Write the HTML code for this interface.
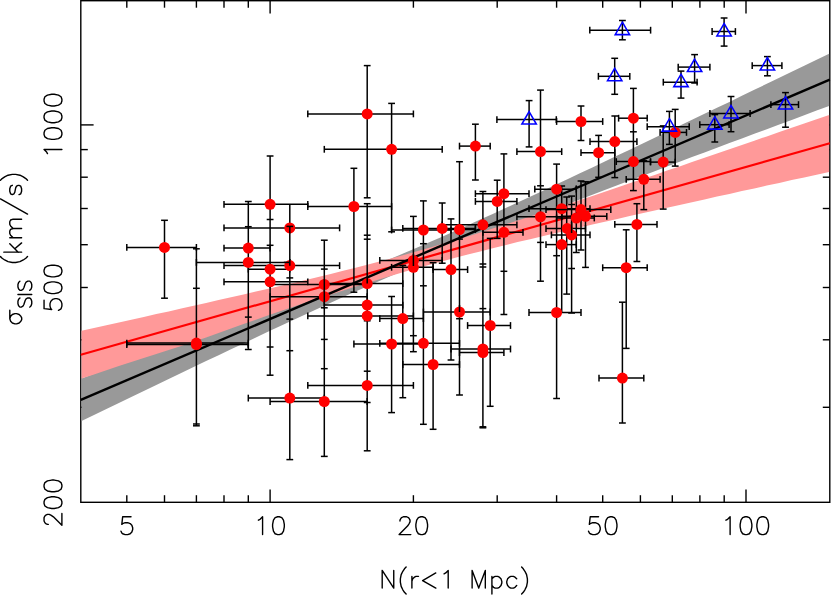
<!DOCTYPE html>
<html><head><meta charset="utf-8"><title>chart</title>
<style>html,body{margin:0;padding:0;background:#fff;font-family:"Liberation Sans",sans-serif;}svg{display:block;}</style></head>
<body><svg width="831" height="595" viewBox="0 0 831 595">
<rect width="831" height="595" fill="#fff"/>
<g stroke="#000" stroke-width="1.4" fill="none">
<rect x="80.8" y="0.7" width="749.0" height="501.6"/>
<line x1="126.8" y1="502.2" x2="126.8" y2="495.2"/>
<line x1="126.8" y1="0.7" x2="126.8" y2="7.7"/>
<line x1="164.5" y1="502.2" x2="164.5" y2="495.2"/>
<line x1="164.5" y1="0.7" x2="164.5" y2="7.7"/>
<line x1="196.4" y1="502.2" x2="196.4" y2="495.2"/>
<line x1="196.4" y1="0.7" x2="196.4" y2="7.7"/>
<line x1="224.0" y1="502.2" x2="224.0" y2="495.2"/>
<line x1="224.0" y1="0.7" x2="224.0" y2="7.7"/>
<line x1="248.3" y1="502.2" x2="248.3" y2="495.2"/>
<line x1="248.3" y1="0.7" x2="248.3" y2="7.7"/>
<line x1="270.1" y1="502.2" x2="270.1" y2="489.4"/>
<line x1="270.1" y1="0.7" x2="270.1" y2="13.5"/>
<line x1="413.4" y1="502.2" x2="413.4" y2="495.2"/>
<line x1="413.4" y1="0.7" x2="413.4" y2="7.7"/>
<line x1="497.2" y1="502.2" x2="497.2" y2="495.2"/>
<line x1="497.2" y1="0.7" x2="497.2" y2="7.7"/>
<line x1="556.6" y1="502.2" x2="556.6" y2="495.2"/>
<line x1="556.6" y1="0.7" x2="556.6" y2="7.7"/>
<line x1="602.7" y1="502.2" x2="602.7" y2="495.2"/>
<line x1="602.7" y1="0.7" x2="602.7" y2="7.7"/>
<line x1="640.4" y1="502.2" x2="640.4" y2="495.2"/>
<line x1="640.4" y1="0.7" x2="640.4" y2="7.7"/>
<line x1="672.3" y1="502.2" x2="672.3" y2="495.2"/>
<line x1="672.3" y1="0.7" x2="672.3" y2="7.7"/>
<line x1="699.9" y1="502.2" x2="699.9" y2="495.2"/>
<line x1="699.9" y1="0.7" x2="699.9" y2="7.7"/>
<line x1="724.2" y1="502.2" x2="724.2" y2="495.2"/>
<line x1="724.2" y1="0.7" x2="724.2" y2="7.7"/>
<line x1="746.0" y1="502.2" x2="746.0" y2="489.4"/>
<line x1="746.0" y1="0.7" x2="746.0" y2="13.5"/>
<line x1="80.8" y1="407.3" x2="87.8" y2="407.3"/>
<line x1="829.8" y1="407.3" x2="822.8" y2="407.3"/>
<line x1="80.8" y1="339.8" x2="87.8" y2="339.8"/>
<line x1="829.8" y1="339.8" x2="822.8" y2="339.8"/>
<line x1="80.8" y1="287.5" x2="87.8" y2="287.5"/>
<line x1="829.8" y1="287.5" x2="822.8" y2="287.5"/>
<line x1="80.8" y1="244.7" x2="87.8" y2="244.7"/>
<line x1="829.8" y1="244.7" x2="822.8" y2="244.7"/>
<line x1="80.8" y1="208.5" x2="87.8" y2="208.5"/>
<line x1="829.8" y1="208.5" x2="822.8" y2="208.5"/>
<line x1="80.8" y1="177.2" x2="87.8" y2="177.2"/>
<line x1="829.8" y1="177.2" x2="822.8" y2="177.2"/>
<line x1="80.8" y1="149.6" x2="87.8" y2="149.6"/>
<line x1="829.8" y1="149.6" x2="822.8" y2="149.6"/>
<line x1="80.8" y1="124.9" x2="93.6" y2="124.9"/>
<line x1="829.8" y1="124.9" x2="817.0" y2="124.9"/>
</g>
<path d="M81.5 378.4 L94.0 373.7 L106.4 369.1 L118.9 364.4 L131.3 359.7 L143.8 355.0 L156.3 350.4 L168.7 345.7 L181.2 341.0 L193.6 336.2 L206.1 331.5 L218.6 326.8 L231.0 322.0 L243.5 317.3 L255.9 312.5 L268.4 307.7 L280.9 302.9 L293.3 298.0 L305.8 293.2 L318.2 288.2 L330.7 283.3 L343.2 278.3 L355.6 273.3 L368.1 268.2 L380.5 263.0 L393.0 257.8 L405.5 252.6 L417.9 247.2 L430.4 241.8 L442.8 236.4 L455.3 230.8 L467.8 225.3 L480.2 219.6 L492.7 214.0 L505.1 208.3 L517.6 202.5 L530.1 196.7 L542.5 190.9 L555.0 185.1 L567.4 179.2 L579.9 173.3 L592.4 167.4 L604.8 161.5 L617.3 155.6 L629.7 149.7 L642.2 143.7 L654.7 137.8 L667.1 131.8 L679.6 125.8 L692.0 119.8 L704.5 113.8 L717.0 107.8 L729.4 101.9 L741.9 95.8 L754.3 89.8 L766.8 83.8 L779.3 77.8 L791.7 71.8 L804.2 65.8 L816.6 59.8 L829.1 53.7 L829.1 106.0 L816.6 110.6 L804.2 115.3 L791.7 119.9 L779.3 124.5 L766.8 129.2 L754.3 133.8 L741.9 138.5 L729.4 143.1 L717.0 147.8 L704.5 152.5 L692.0 157.1 L679.6 161.8 L667.1 166.5 L654.7 171.2 L642.2 175.9 L629.7 180.6 L617.3 185.3 L604.8 190.1 L592.4 194.8 L579.9 199.6 L567.4 204.3 L555.0 209.1 L542.5 214.0 L530.1 218.8 L517.6 223.7 L505.1 228.6 L492.7 233.5 L480.2 238.5 L467.8 243.5 L455.3 248.6 L442.8 253.8 L430.4 259.0 L417.9 264.2 L405.5 269.6 L393.0 275.0 L380.5 280.4 L368.1 285.9 L355.6 291.5 L343.2 297.1 L330.7 302.8 L318.2 308.5 L305.8 314.2 L293.3 320.0 L280.9 325.8 L268.4 331.6 L255.9 337.5 L243.5 343.4 L231.0 349.3 L218.6 355.2 L206.1 361.1 L193.6 367.1 L181.2 373.0 L168.7 379.0 L156.3 384.9 L143.8 390.9 L131.3 396.9 L118.9 402.9 L106.4 408.9 L94.0 414.9 L81.5 420.9Z" fill="#999"/>
<path d="M81.5 330.7 L94.0 328.0 L106.4 325.2 L118.9 322.4 L131.3 319.7 L143.8 316.9 L156.3 314.1 L168.7 311.4 L181.2 308.6 L193.6 305.8 L206.1 303.0 L218.6 300.1 L231.0 297.3 L243.5 294.5 L255.9 291.6 L268.4 288.7 L280.9 285.8 L293.3 282.9 L305.8 279.9 L318.2 276.9 L330.7 273.9 L343.2 270.8 L355.6 267.7 L368.1 264.5 L380.5 261.2 L393.0 257.9 L405.5 254.5 L417.9 251.0 L430.4 247.5 L442.8 243.8 L455.3 240.1 L467.8 236.4 L480.2 232.5 L492.7 228.6 L505.1 224.6 L517.6 220.6 L530.1 216.6 L542.5 212.5 L555.0 208.4 L567.4 204.3 L579.9 200.1 L592.4 195.9 L604.8 191.8 L617.3 187.5 L629.7 183.3 L642.2 179.1 L654.7 174.9 L667.1 170.6 L679.6 166.4 L692.0 162.1 L704.5 157.8 L717.0 153.6 L729.4 149.3 L741.9 145.0 L754.3 140.7 L766.8 136.4 L779.3 132.1 L791.7 127.8 L804.2 123.5 L816.6 119.2 L829.1 114.9 L829.1 171.9 L816.6 174.7 L804.2 177.4 L791.7 180.1 L779.3 182.9 L766.8 185.6 L754.3 188.4 L741.9 191.1 L729.4 193.9 L717.0 196.6 L704.5 199.4 L692.0 202.2 L679.6 204.9 L667.1 207.7 L654.7 210.5 L642.2 213.3 L629.7 216.1 L617.3 218.9 L604.8 221.8 L592.4 224.6 L579.9 227.5 L567.4 230.4 L555.0 233.3 L542.5 236.2 L530.1 239.2 L517.6 242.1 L505.1 245.2 L492.7 248.3 L480.2 251.4 L467.8 254.6 L455.3 257.8 L442.8 261.2 L430.4 264.6 L417.9 268.0 L405.5 271.6 L393.0 275.2 L380.5 279.0 L368.1 282.7 L355.6 286.6 L343.2 290.5 L330.7 294.5 L318.2 298.5 L305.8 302.6 L293.3 306.8 L280.9 311.0 L268.4 315.3 L255.9 319.7 L243.5 324.1 L231.0 328.5 L218.6 333.0 L206.1 337.4 L193.6 341.7 L181.2 345.9 L168.7 350.0 L156.3 354.1 L143.8 358.1 L131.3 362.1 L118.9 366.1 L106.4 370.2 L94.0 374.4 L81.5 378.5Z" fill="#f99"/>
<line x1="80.8" y1="354.7" x2="829.8" y2="143.2" stroke="#f00" stroke-width="2.2"/>
<line x1="80.8" y1="399.9" x2="829.8" y2="79.6" stroke="#000" stroke-width="2.4"/>
<g stroke="#000" stroke-width="1.50" fill="none">
<line x1="164.5" y1="220.3" x2="164.5" y2="298.2"/>
<line x1="161.1" y1="220.3" x2="167.9" y2="220.3"/>
<line x1="161.1" y1="298.2" x2="167.9" y2="298.2"/>
<line x1="196.4" y1="248.8" x2="196.4" y2="425.8"/>
<line x1="193.0" y1="248.8" x2="199.8" y2="248.8"/>
<line x1="193.0" y1="288.3" x2="199.8" y2="288.3"/>
<line x1="193.0" y1="424.0" x2="199.8" y2="424.0"/>
<line x1="193.0" y1="425.8" x2="199.8" y2="425.8"/>
<line x1="248.3" y1="201.5" x2="248.3" y2="349.5"/>
<line x1="244.9" y1="201.5" x2="251.7" y2="201.5"/>
<line x1="244.9" y1="226.7" x2="251.7" y2="226.7"/>
<line x1="244.9" y1="317.1" x2="251.7" y2="317.1"/>
<line x1="244.9" y1="349.5" x2="251.7" y2="349.5"/>
<line x1="270.1" y1="156.0" x2="270.1" y2="375.2"/>
<line x1="266.7" y1="156.0" x2="273.5" y2="156.0"/>
<line x1="266.7" y1="219.5" x2="273.5" y2="219.5"/>
<line x1="266.7" y1="245.3" x2="273.5" y2="245.3"/>
<line x1="266.7" y1="347.0" x2="273.5" y2="347.0"/>
<line x1="266.7" y1="375.2" x2="273.5" y2="375.2"/>
<line x1="289.8" y1="204.3" x2="289.8" y2="459.6"/>
<line x1="286.4" y1="225.9" x2="293.2" y2="225.9"/>
<line x1="286.4" y1="277.9" x2="293.2" y2="277.9"/>
<line x1="286.4" y1="319.1" x2="293.2" y2="319.1"/>
<line x1="286.4" y1="350.7" x2="293.2" y2="350.7"/>
<line x1="286.4" y1="459.6" x2="293.2" y2="459.6"/>
<line x1="324.3" y1="240.2" x2="324.3" y2="456.4"/>
<line x1="320.9" y1="240.2" x2="327.7" y2="240.2"/>
<line x1="320.9" y1="269.1" x2="327.7" y2="269.1"/>
<line x1="320.9" y1="307.8" x2="327.7" y2="307.8"/>
<line x1="320.9" y1="339.4" x2="327.7" y2="339.4"/>
<line x1="320.9" y1="368.7" x2="327.7" y2="368.7"/>
<line x1="320.9" y1="456.4" x2="327.7" y2="456.4"/>
<line x1="353.9" y1="168.3" x2="353.9" y2="292.2"/>
<line x1="350.5" y1="168.3" x2="357.3" y2="168.3"/>
<line x1="350.5" y1="292.2" x2="357.3" y2="292.2"/>
<line x1="367.2" y1="65.6" x2="367.2" y2="197.8"/>
<line x1="367.2" y1="203.7" x2="367.2" y2="450.8"/>
<line x1="363.8" y1="65.6" x2="370.6" y2="65.6"/>
<line x1="363.8" y1="197.8" x2="370.6" y2="197.8"/>
<line x1="363.8" y1="203.7" x2="370.6" y2="203.7"/>
<line x1="363.8" y1="235.2" x2="370.6" y2="235.2"/>
<line x1="363.8" y1="239.2" x2="370.6" y2="239.2"/>
<line x1="363.8" y1="320.8" x2="370.6" y2="320.8"/>
<line x1="363.8" y1="371.2" x2="370.6" y2="371.2"/>
<line x1="363.8" y1="402.5" x2="370.6" y2="402.5"/>
<line x1="363.8" y1="450.8" x2="370.6" y2="450.8"/>
<line x1="391.6" y1="103.4" x2="391.6" y2="231.8"/>
<line x1="391.6" y1="296.5" x2="391.6" y2="412.6"/>
<line x1="388.2" y1="103.4" x2="395.0" y2="103.4"/>
<line x1="388.2" y1="231.8" x2="395.0" y2="231.8"/>
<line x1="388.2" y1="296.5" x2="395.0" y2="296.5"/>
<line x1="388.2" y1="412.6" x2="395.0" y2="412.6"/>
<line x1="402.8" y1="265.4" x2="402.8" y2="397.7"/>
<line x1="399.4" y1="265.4" x2="406.2" y2="265.4"/>
<line x1="399.4" y1="397.7" x2="406.2" y2="397.7"/>
<line x1="413.4" y1="216.4" x2="413.4" y2="351.7"/>
<line x1="410.0" y1="216.4" x2="416.8" y2="216.4"/>
<line x1="410.0" y1="335.7" x2="416.8" y2="335.7"/>
<line x1="410.0" y1="351.7" x2="416.8" y2="351.7"/>
<line x1="423.4" y1="200.9" x2="423.4" y2="424.3"/>
<line x1="420.0" y1="200.9" x2="426.8" y2="200.9"/>
<line x1="420.0" y1="243.7" x2="426.8" y2="243.7"/>
<line x1="420.0" y1="285.8" x2="426.8" y2="285.8"/>
<line x1="420.0" y1="424.3" x2="426.8" y2="424.3"/>
<line x1="433.1" y1="262.7" x2="433.1" y2="429.3"/>
<line x1="429.7" y1="262.7" x2="436.5" y2="262.7"/>
<line x1="429.7" y1="429.3" x2="436.5" y2="429.3"/>
<line x1="442.2" y1="203.0" x2="442.2" y2="263.2"/>
<line x1="438.8" y1="203.0" x2="445.6" y2="203.0"/>
<line x1="438.8" y1="263.2" x2="445.6" y2="263.2"/>
<line x1="451.0" y1="218.9" x2="451.0" y2="360.0"/>
<line x1="447.6" y1="218.9" x2="454.4" y2="218.9"/>
<line x1="447.6" y1="360.0" x2="454.4" y2="360.0"/>
<line x1="459.5" y1="161.7" x2="459.5" y2="395.0"/>
<line x1="456.1" y1="161.7" x2="462.9" y2="161.7"/>
<line x1="456.1" y1="239.1" x2="462.9" y2="239.1"/>
<line x1="456.1" y1="318.7" x2="462.9" y2="318.7"/>
<line x1="456.1" y1="395.0" x2="462.9" y2="395.0"/>
<line x1="475.4" y1="124.2" x2="475.4" y2="180.0"/>
<line x1="472.0" y1="124.2" x2="478.8" y2="124.2"/>
<line x1="472.0" y1="180.0" x2="478.8" y2="180.0"/>
<line x1="482.9" y1="191.5" x2="482.9" y2="427.8"/>
<line x1="479.5" y1="191.5" x2="486.3" y2="191.5"/>
<line x1="479.5" y1="264.0" x2="486.3" y2="264.0"/>
<line x1="479.5" y1="267.0" x2="486.3" y2="267.0"/>
<line x1="479.5" y1="308.6" x2="486.3" y2="308.6"/>
<line x1="479.5" y1="426.8" x2="486.3" y2="426.8"/>
<line x1="479.5" y1="427.8" x2="486.3" y2="427.8"/>
<line x1="490.2" y1="238.4" x2="490.2" y2="406.3"/>
<line x1="486.8" y1="238.4" x2="493.6" y2="238.4"/>
<line x1="486.8" y1="406.3" x2="493.6" y2="406.3"/>
<line x1="497.2" y1="180.2" x2="497.2" y2="238.4"/>
<line x1="493.8" y1="180.2" x2="500.6" y2="180.2"/>
<line x1="493.8" y1="238.4" x2="500.6" y2="238.4"/>
<line x1="503.9" y1="153.9" x2="503.9" y2="314.5"/>
<line x1="500.5" y1="153.9" x2="507.3" y2="153.9"/>
<line x1="500.5" y1="271.3" x2="507.3" y2="271.3"/>
<line x1="500.5" y1="314.5" x2="507.3" y2="314.5"/>
<line x1="540.5" y1="90.1" x2="540.5" y2="281.2"/>
<line x1="537.1" y1="90.1" x2="543.9" y2="90.1"/>
<line x1="537.1" y1="185.8" x2="543.9" y2="185.8"/>
<line x1="537.1" y1="242.4" x2="543.9" y2="242.4"/>
<line x1="537.1" y1="281.2" x2="543.9" y2="281.2"/>
<line x1="556.6" y1="164.1" x2="556.6" y2="398.5"/>
<line x1="553.2" y1="164.1" x2="560.0" y2="164.1"/>
<line x1="553.2" y1="255.7" x2="560.0" y2="255.7"/>
<line x1="553.2" y1="398.5" x2="560.0" y2="398.5"/>
<line x1="561.7" y1="186.0" x2="561.7" y2="312.5"/>
<line x1="558.3" y1="186.0" x2="565.1" y2="186.0"/>
<line x1="566.7" y1="197.0" x2="566.7" y2="294.1"/>
<line x1="563.3" y1="197.0" x2="570.1" y2="197.0"/>
<line x1="563.3" y1="294.1" x2="570.1" y2="294.1"/>
<line x1="571.6" y1="196.1" x2="571.6" y2="313.0"/>
<line x1="568.2" y1="196.1" x2="575.0" y2="196.1"/>
<line x1="568.2" y1="204.5" x2="575.0" y2="204.5"/>
<line x1="568.2" y1="268.5" x2="575.0" y2="268.5"/>
<line x1="568.2" y1="313.0" x2="575.0" y2="313.0"/>
<line x1="576.3" y1="185.5" x2="576.3" y2="252.5"/>
<line x1="572.9" y1="252.5" x2="579.7" y2="252.5"/>
<line x1="581.0" y1="106.0" x2="581.0" y2="140.5"/>
<line x1="581.0" y1="181.0" x2="581.0" y2="250.0"/>
<line x1="577.6" y1="106.0" x2="584.4" y2="106.0"/>
<line x1="577.6" y1="140.5" x2="584.4" y2="140.5"/>
<line x1="577.6" y1="181.0" x2="584.4" y2="181.0"/>
<line x1="577.6" y1="250.0" x2="584.4" y2="250.0"/>
<line x1="585.5" y1="181.8" x2="585.5" y2="267.4"/>
<line x1="582.1" y1="181.8" x2="588.9" y2="181.8"/>
<line x1="582.1" y1="267.4" x2="588.9" y2="267.4"/>
<line x1="598.6" y1="135.4" x2="598.6" y2="177.3"/>
<line x1="595.2" y1="135.4" x2="602.0" y2="135.4"/>
<line x1="595.2" y1="177.3" x2="602.0" y2="177.3"/>
<line x1="614.8" y1="116.0" x2="614.8" y2="177.6"/>
<line x1="611.4" y1="116.0" x2="618.2" y2="116.0"/>
<line x1="611.4" y1="177.6" x2="618.2" y2="177.6"/>
<line x1="622.4" y1="302.2" x2="622.4" y2="423.0"/>
<line x1="619.0" y1="302.2" x2="625.8" y2="302.2"/>
<line x1="619.0" y1="423.0" x2="625.8" y2="423.0"/>
<line x1="626.2" y1="229.8" x2="626.2" y2="348.4"/>
<line x1="622.8" y1="229.8" x2="629.6" y2="229.8"/>
<line x1="622.8" y1="348.4" x2="629.6" y2="348.4"/>
<line x1="633.4" y1="88.4" x2="633.4" y2="190.6"/>
<line x1="630.0" y1="88.4" x2="636.8" y2="88.4"/>
<line x1="630.0" y1="131.8" x2="636.8" y2="131.8"/>
<line x1="630.0" y1="190.6" x2="636.8" y2="190.6"/>
<line x1="636.9" y1="203.7" x2="636.9" y2="261.5"/>
<line x1="633.5" y1="203.7" x2="640.3" y2="203.7"/>
<line x1="633.5" y1="261.5" x2="640.3" y2="261.5"/>
<line x1="643.8" y1="160.8" x2="643.8" y2="209.6"/>
<line x1="640.4" y1="160.8" x2="647.2" y2="160.8"/>
<line x1="640.4" y1="209.6" x2="647.2" y2="209.6"/>
<line x1="663.2" y1="125.9" x2="663.2" y2="209.1"/>
<line x1="659.8" y1="125.9" x2="666.6" y2="125.9"/>
<line x1="659.8" y1="209.1" x2="666.6" y2="209.1"/>
<line x1="675.2" y1="109.4" x2="675.2" y2="166.1"/>
<line x1="671.8" y1="109.4" x2="678.6" y2="109.4"/>
<line x1="671.8" y1="166.1" x2="678.6" y2="166.1"/>
<line x1="126.8" y1="247.4" x2="196.4" y2="247.4"/>
<line x1="126.8" y1="244.0" x2="126.8" y2="250.8"/>
<line x1="196.4" y1="244.0" x2="196.4" y2="250.8"/>
<line x1="126.8" y1="343.1" x2="248.3" y2="343.1"/>
<line x1="126.8" y1="339.7" x2="126.8" y2="346.5"/>
<line x1="248.3" y1="339.7" x2="248.3" y2="346.5"/>
<line x1="126.8" y1="344.6" x2="248.3" y2="344.6"/>
<line x1="126.8" y1="341.2" x2="126.8" y2="348.0"/>
<line x1="248.3" y1="341.2" x2="248.3" y2="348.0"/>
<line x1="224.0" y1="248.1" x2="270.1" y2="248.1"/>
<line x1="224.0" y1="244.7" x2="224.0" y2="251.5"/>
<line x1="270.1" y1="244.7" x2="270.1" y2="251.5"/>
<line x1="196.4" y1="262.4" x2="289.8" y2="262.4"/>
<line x1="196.4" y1="259.0" x2="196.4" y2="265.8"/>
<line x1="289.8" y1="259.0" x2="289.8" y2="265.8"/>
<line x1="224.0" y1="204.3" x2="307.8" y2="204.3"/>
<line x1="224.0" y1="200.9" x2="224.0" y2="207.7"/>
<line x1="307.8" y1="200.9" x2="307.8" y2="207.7"/>
<line x1="248.3" y1="269.2" x2="289.8" y2="269.2"/>
<line x1="248.3" y1="265.8" x2="248.3" y2="272.6"/>
<line x1="289.8" y1="265.8" x2="289.8" y2="272.6"/>
<line x1="224.0" y1="281.8" x2="307.8" y2="281.8"/>
<line x1="224.0" y1="278.4" x2="224.0" y2="285.2"/>
<line x1="307.8" y1="278.4" x2="307.8" y2="285.2"/>
<line x1="224.0" y1="227.9" x2="339.6" y2="227.9"/>
<line x1="224.0" y1="224.5" x2="224.0" y2="231.3"/>
<line x1="339.6" y1="224.5" x2="339.6" y2="231.3"/>
<line x1="224.0" y1="265.6" x2="339.6" y2="265.6"/>
<line x1="224.0" y1="262.2" x2="224.0" y2="269.0"/>
<line x1="339.6" y1="262.2" x2="339.6" y2="269.0"/>
<line x1="248.3" y1="398.1" x2="324.3" y2="398.1"/>
<line x1="248.3" y1="394.7" x2="248.3" y2="401.5"/>
<line x1="324.3" y1="394.7" x2="324.3" y2="401.5"/>
<line x1="270.1" y1="284.5" x2="367.2" y2="284.5"/>
<line x1="270.1" y1="281.1" x2="270.1" y2="287.9"/>
<line x1="367.2" y1="281.1" x2="367.2" y2="287.9"/>
<line x1="270.1" y1="296.7" x2="367.2" y2="296.7"/>
<line x1="270.1" y1="293.3" x2="270.1" y2="300.1"/>
<line x1="367.2" y1="293.3" x2="367.2" y2="300.1"/>
<line x1="270.1" y1="401.5" x2="367.2" y2="401.5"/>
<line x1="270.1" y1="398.1" x2="270.1" y2="404.9"/>
<line x1="367.2" y1="398.1" x2="367.2" y2="404.9"/>
<line x1="307.8" y1="206.5" x2="391.6" y2="206.5"/>
<line x1="307.8" y1="203.1" x2="307.8" y2="209.9"/>
<line x1="391.6" y1="203.1" x2="391.6" y2="209.9"/>
<line x1="307.8" y1="113.9" x2="413.4" y2="113.9"/>
<line x1="307.8" y1="110.5" x2="307.8" y2="117.3"/>
<line x1="413.4" y1="110.5" x2="413.4" y2="117.3"/>
<line x1="324.3" y1="283.6" x2="402.8" y2="283.6"/>
<line x1="324.3" y1="280.2" x2="324.3" y2="287.0"/>
<line x1="402.8" y1="280.2" x2="402.8" y2="287.0"/>
<line x1="324.3" y1="305.1" x2="402.8" y2="305.1"/>
<line x1="324.3" y1="301.7" x2="324.3" y2="308.5"/>
<line x1="402.8" y1="301.7" x2="402.8" y2="308.5"/>
<line x1="307.8" y1="315.9" x2="413.4" y2="315.9"/>
<line x1="307.8" y1="312.5" x2="307.8" y2="319.3"/>
<line x1="413.4" y1="312.5" x2="413.4" y2="319.3"/>
<line x1="307.8" y1="385.4" x2="413.4" y2="385.4"/>
<line x1="307.8" y1="382.0" x2="307.8" y2="388.8"/>
<line x1="413.4" y1="382.0" x2="413.4" y2="388.8"/>
<line x1="324.3" y1="149.3" x2="442.2" y2="149.3"/>
<line x1="324.3" y1="145.9" x2="324.3" y2="152.7"/>
<line x1="442.2" y1="145.9" x2="442.2" y2="152.7"/>
<line x1="353.9" y1="344.0" x2="423.4" y2="344.0"/>
<line x1="353.9" y1="340.6" x2="353.9" y2="347.4"/>
<line x1="423.4" y1="340.6" x2="423.4" y2="347.4"/>
<line x1="379.8" y1="318.6" x2="423.4" y2="318.6"/>
<line x1="379.8" y1="315.2" x2="379.8" y2="322.0"/>
<line x1="423.4" y1="315.2" x2="423.4" y2="322.0"/>
<line x1="379.8" y1="260.4" x2="442.2" y2="260.4"/>
<line x1="379.8" y1="257.0" x2="379.8" y2="263.8"/>
<line x1="442.2" y1="257.0" x2="442.2" y2="263.8"/>
<line x1="391.6" y1="267.3" x2="433.1" y2="267.3"/>
<line x1="391.6" y1="263.9" x2="391.6" y2="270.7"/>
<line x1="433.1" y1="263.9" x2="433.1" y2="270.7"/>
<line x1="391.6" y1="230.0" x2="451.0" y2="230.0"/>
<line x1="391.6" y1="226.6" x2="391.6" y2="233.4"/>
<line x1="451.0" y1="226.6" x2="451.0" y2="233.4"/>
<line x1="379.8" y1="343.3" x2="459.5" y2="343.3"/>
<line x1="379.8" y1="339.9" x2="379.8" y2="346.7"/>
<line x1="459.5" y1="339.9" x2="459.5" y2="346.7"/>
<line x1="402.8" y1="364.5" x2="459.5" y2="364.5"/>
<line x1="402.8" y1="361.1" x2="402.8" y2="367.9"/>
<line x1="459.5" y1="361.1" x2="459.5" y2="367.9"/>
<line x1="402.8" y1="228.4" x2="475.4" y2="228.4"/>
<line x1="402.8" y1="225.0" x2="402.8" y2="231.8"/>
<line x1="475.4" y1="225.0" x2="475.4" y2="231.8"/>
<line x1="433.1" y1="269.6" x2="467.6" y2="269.6"/>
<line x1="433.1" y1="266.2" x2="433.1" y2="273.0"/>
<line x1="467.6" y1="266.2" x2="467.6" y2="273.0"/>
<line x1="442.2" y1="229.5" x2="475.4" y2="229.5"/>
<line x1="442.2" y1="226.1" x2="442.2" y2="232.9"/>
<line x1="475.4" y1="226.1" x2="475.4" y2="232.9"/>
<line x1="423.4" y1="312.0" x2="490.2" y2="312.0"/>
<line x1="423.4" y1="308.6" x2="423.4" y2="315.4"/>
<line x1="490.2" y1="308.6" x2="490.2" y2="315.4"/>
<line x1="459.5" y1="146.1" x2="490.2" y2="146.1"/>
<line x1="459.5" y1="142.7" x2="459.5" y2="149.5"/>
<line x1="490.2" y1="142.7" x2="490.2" y2="149.5"/>
<line x1="442.2" y1="224.8" x2="516.9" y2="224.8"/>
<line x1="442.2" y1="221.4" x2="442.2" y2="228.2"/>
<line x1="516.9" y1="221.4" x2="516.9" y2="228.2"/>
<line x1="451.0" y1="349.0" x2="510.5" y2="349.0"/>
<line x1="451.0" y1="345.6" x2="451.0" y2="352.4"/>
<line x1="510.5" y1="345.6" x2="510.5" y2="352.4"/>
<line x1="459.5" y1="352.6" x2="503.9" y2="352.6"/>
<line x1="459.5" y1="349.2" x2="459.5" y2="356.0"/>
<line x1="503.9" y1="349.2" x2="503.9" y2="356.0"/>
<line x1="467.6" y1="325.5" x2="510.5" y2="325.5"/>
<line x1="467.6" y1="322.1" x2="467.6" y2="328.9"/>
<line x1="510.5" y1="322.1" x2="510.5" y2="328.9"/>
<line x1="475.4" y1="201.4" x2="516.9" y2="201.4"/>
<line x1="475.4" y1="198.0" x2="475.4" y2="204.8"/>
<line x1="516.9" y1="198.0" x2="516.9" y2="204.8"/>
<line x1="475.4" y1="193.7" x2="529.0" y2="193.7"/>
<line x1="475.4" y1="190.3" x2="475.4" y2="197.1"/>
<line x1="529.0" y1="190.3" x2="529.0" y2="197.1"/>
<line x1="482.9" y1="232.3" x2="523.0" y2="232.3"/>
<line x1="482.9" y1="228.9" x2="482.9" y2="235.7"/>
<line x1="523.0" y1="228.9" x2="523.0" y2="235.7"/>
<line x1="516.9" y1="151.6" x2="561.7" y2="151.6"/>
<line x1="516.9" y1="148.2" x2="516.9" y2="155.0"/>
<line x1="561.7" y1="148.2" x2="561.7" y2="155.0"/>
<line x1="516.9" y1="216.8" x2="561.7" y2="216.8"/>
<line x1="516.9" y1="213.4" x2="516.9" y2="220.2"/>
<line x1="561.7" y1="213.4" x2="561.7" y2="220.2"/>
<line x1="534.8" y1="189.2" x2="576.3" y2="189.2"/>
<line x1="534.8" y1="185.8" x2="534.8" y2="192.6"/>
<line x1="576.3" y1="185.8" x2="576.3" y2="192.6"/>
<line x1="529.0" y1="312.5" x2="581.0" y2="312.5"/>
<line x1="529.0" y1="309.1" x2="529.0" y2="315.9"/>
<line x1="581.0" y1="309.1" x2="581.0" y2="315.9"/>
<line x1="529.0" y1="208.7" x2="590.0" y2="208.7"/>
<line x1="529.0" y1="205.3" x2="529.0" y2="212.1"/>
<line x1="590.0" y1="205.3" x2="590.0" y2="212.1"/>
<line x1="546.0" y1="244.6" x2="576.3" y2="244.6"/>
<line x1="546.0" y1="241.2" x2="546.0" y2="248.0"/>
<line x1="576.3" y1="241.2" x2="576.3" y2="248.0"/>
<line x1="546.0" y1="228.6" x2="585.5" y2="228.6"/>
<line x1="546.0" y1="225.2" x2="546.0" y2="232.0"/>
<line x1="585.5" y1="225.2" x2="585.5" y2="232.0"/>
<line x1="551.4" y1="234.9" x2="590.0" y2="234.9"/>
<line x1="551.4" y1="231.5" x2="551.4" y2="238.3"/>
<line x1="590.0" y1="231.5" x2="590.0" y2="238.3"/>
<line x1="556.6" y1="218.0" x2="594.3" y2="218.0"/>
<line x1="556.6" y1="214.6" x2="556.6" y2="221.4"/>
<line x1="594.3" y1="214.6" x2="594.3" y2="221.4"/>
<line x1="556.6" y1="121.5" x2="602.7" y2="121.5"/>
<line x1="556.6" y1="118.1" x2="556.6" y2="124.9"/>
<line x1="602.7" y1="118.1" x2="602.7" y2="124.9"/>
<line x1="546.0" y1="209.6" x2="610.8" y2="209.6"/>
<line x1="546.0" y1="206.2" x2="546.0" y2="213.0"/>
<line x1="610.8" y1="206.2" x2="610.8" y2="213.0"/>
<line x1="561.7" y1="216.3" x2="606.8" y2="216.3"/>
<line x1="561.7" y1="212.9" x2="561.7" y2="219.7"/>
<line x1="606.8" y1="212.9" x2="606.8" y2="219.7"/>
<line x1="581.0" y1="152.7" x2="614.8" y2="152.7"/>
<line x1="581.0" y1="149.3" x2="581.0" y2="156.1"/>
<line x1="614.8" y1="149.3" x2="614.8" y2="156.1"/>
<line x1="590.0" y1="141.6" x2="636.9" y2="141.6"/>
<line x1="590.0" y1="138.2" x2="590.0" y2="145.0"/>
<line x1="636.9" y1="138.2" x2="636.9" y2="145.0"/>
<line x1="599.0" y1="378.1" x2="643.8" y2="378.1"/>
<line x1="599.0" y1="374.7" x2="599.0" y2="381.5"/>
<line x1="643.8" y1="374.7" x2="643.8" y2="381.5"/>
<line x1="602.7" y1="267.7" x2="647.2" y2="267.7"/>
<line x1="602.7" y1="264.3" x2="602.7" y2="271.1"/>
<line x1="647.2" y1="264.3" x2="647.2" y2="271.1"/>
<line x1="618.6" y1="118.2" x2="647.2" y2="118.2"/>
<line x1="618.6" y1="114.8" x2="618.6" y2="121.6"/>
<line x1="647.2" y1="114.8" x2="647.2" y2="121.6"/>
<line x1="616.3" y1="161.6" x2="650.5" y2="161.6"/>
<line x1="616.3" y1="158.2" x2="616.3" y2="165.0"/>
<line x1="650.5" y1="158.2" x2="650.5" y2="165.0"/>
<line x1="614.8" y1="224.4" x2="657.0" y2="224.4"/>
<line x1="614.8" y1="221.0" x2="614.8" y2="227.8"/>
<line x1="657.0" y1="221.0" x2="657.0" y2="227.8"/>
<line x1="626.2" y1="179.3" x2="660.1" y2="179.3"/>
<line x1="626.2" y1="175.9" x2="626.2" y2="182.7"/>
<line x1="660.1" y1="175.9" x2="660.1" y2="182.7"/>
<line x1="650.5" y1="162.1" x2="675.2" y2="162.1"/>
<line x1="650.5" y1="158.7" x2="650.5" y2="165.5"/>
<line x1="675.2" y1="158.7" x2="675.2" y2="165.5"/>
<line x1="660.1" y1="132.4" x2="686.5" y2="132.4"/>
<line x1="660.1" y1="129.0" x2="660.1" y2="135.8"/>
<line x1="686.5" y1="129.0" x2="686.5" y2="135.8"/>
<line x1="496.9" y1="119.6" x2="556.3" y2="119.6"/>
<line x1="496.9" y1="116.2" x2="496.9" y2="123.0"/>
<line x1="556.3" y1="116.2" x2="556.3" y2="123.0"/>
<line x1="529.1" y1="100.6" x2="529.1" y2="146.9"/>
<line x1="525.7" y1="100.6" x2="532.5" y2="100.6"/>
<line x1="525.7" y1="146.9" x2="532.5" y2="146.9"/>
<line x1="589.8" y1="30.2" x2="650.6" y2="30.2"/>
<line x1="589.8" y1="26.8" x2="589.8" y2="33.6"/>
<line x1="650.6" y1="26.8" x2="650.6" y2="33.6"/>
<line x1="622.4" y1="20.5" x2="622.4" y2="39.8"/>
<line x1="619.0" y1="20.5" x2="625.8" y2="20.5"/>
<line x1="619.0" y1="39.8" x2="625.8" y2="39.8"/>
<line x1="598.4" y1="76.3" x2="629.8" y2="76.3"/>
<line x1="598.4" y1="72.9" x2="598.4" y2="79.7"/>
<line x1="629.8" y1="72.9" x2="629.8" y2="79.7"/>
<line x1="614.7" y1="58.3" x2="614.7" y2="94.3"/>
<line x1="611.3" y1="58.3" x2="618.1" y2="58.3"/>
<line x1="611.3" y1="94.3" x2="618.1" y2="94.3"/>
<line x1="712.1" y1="31.5" x2="735.4" y2="31.5"/>
<line x1="712.1" y1="28.1" x2="712.1" y2="34.9"/>
<line x1="735.4" y1="28.1" x2="735.4" y2="34.9"/>
<line x1="724.1" y1="18.0" x2="724.1" y2="46.1"/>
<line x1="720.7" y1="18.0" x2="727.5" y2="18.0"/>
<line x1="720.7" y1="46.1" x2="727.5" y2="46.1"/>
<line x1="678.2" y1="67.1" x2="709.9" y2="67.1"/>
<line x1="678.2" y1="63.7" x2="678.2" y2="70.5"/>
<line x1="709.9" y1="63.7" x2="709.9" y2="70.5"/>
<line x1="694.6" y1="54.6" x2="694.6" y2="83.0"/>
<line x1="691.2" y1="54.6" x2="698.0" y2="54.6"/>
<line x1="691.2" y1="83.0" x2="698.0" y2="83.0"/>
<line x1="663.3" y1="82.2" x2="697.1" y2="82.2"/>
<line x1="663.3" y1="78.8" x2="663.3" y2="85.6"/>
<line x1="697.1" y1="78.8" x2="697.1" y2="85.6"/>
<line x1="681.0" y1="71.1" x2="681.0" y2="98.1"/>
<line x1="677.6" y1="71.1" x2="684.4" y2="71.1"/>
<line x1="677.6" y1="98.1" x2="684.4" y2="98.1"/>
<line x1="752.2" y1="65.6" x2="781.9" y2="65.6"/>
<line x1="752.2" y1="62.2" x2="752.2" y2="69.0"/>
<line x1="781.9" y1="62.2" x2="781.9" y2="69.0"/>
<line x1="767.4" y1="56.6" x2="767.4" y2="75.8"/>
<line x1="764.0" y1="56.6" x2="770.8" y2="56.6"/>
<line x1="764.0" y1="75.8" x2="770.8" y2="75.8"/>
<line x1="709.9" y1="113.5" x2="750.1" y2="113.5"/>
<line x1="709.9" y1="110.1" x2="709.9" y2="116.9"/>
<line x1="750.1" y1="110.1" x2="750.1" y2="116.9"/>
<line x1="731.0" y1="96.5" x2="731.0" y2="131.7"/>
<line x1="727.6" y1="96.5" x2="734.4" y2="96.5"/>
<line x1="727.6" y1="131.7" x2="734.4" y2="131.7"/>
<line x1="699.8" y1="124.7" x2="729.1" y2="124.7"/>
<line x1="699.8" y1="121.3" x2="699.8" y2="128.1"/>
<line x1="729.1" y1="121.3" x2="729.1" y2="128.1"/>
<line x1="714.8" y1="114.6" x2="714.8" y2="142.0"/>
<line x1="711.4" y1="114.6" x2="718.2" y2="114.6"/>
<line x1="711.4" y1="142.0" x2="718.2" y2="142.0"/>
<line x1="770.9" y1="104.6" x2="798.5" y2="104.6"/>
<line x1="770.9" y1="101.2" x2="770.9" y2="108.0"/>
<line x1="798.5" y1="101.2" x2="798.5" y2="108.0"/>
<line x1="785.5" y1="92.6" x2="785.5" y2="127.2"/>
<line x1="782.1" y1="92.6" x2="788.9" y2="92.6"/>
<line x1="782.1" y1="127.2" x2="788.9" y2="127.2"/>
<line x1="647.2" y1="126.7" x2="689.2" y2="126.7"/>
<line x1="647.2" y1="123.3" x2="647.2" y2="130.1"/>
<line x1="689.2" y1="123.3" x2="689.2" y2="130.1"/>
<line x1="669.4" y1="111.4" x2="669.4" y2="144.4"/>
<line x1="666.0" y1="111.4" x2="672.8" y2="111.4"/>
<line x1="666.0" y1="144.4" x2="672.8" y2="144.4"/>
</g>
<g fill="#f00">
<circle cx="164.5" cy="247.4" r="5.5"/>
<circle cx="196.4" cy="343.1" r="5.5"/>
<circle cx="196.4" cy="344.6" r="5.5"/>
<circle cx="248.3" cy="248.1" r="5.5"/>
<circle cx="248.3" cy="262.4" r="5.5"/>
<circle cx="270.1" cy="204.3" r="5.5"/>
<circle cx="270.1" cy="269.2" r="5.5"/>
<circle cx="270.1" cy="281.8" r="5.5"/>
<circle cx="289.8" cy="227.9" r="5.5"/>
<circle cx="289.8" cy="265.6" r="5.5"/>
<circle cx="289.8" cy="398.1" r="5.5"/>
<circle cx="324.3" cy="284.5" r="5.5"/>
<circle cx="324.3" cy="296.7" r="5.5"/>
<circle cx="324.3" cy="401.5" r="5.5"/>
<circle cx="353.9" cy="206.5" r="5.5"/>
<circle cx="367.2" cy="113.9" r="5.5"/>
<circle cx="367.2" cy="283.6" r="5.5"/>
<circle cx="367.2" cy="305.1" r="5.5"/>
<circle cx="367.2" cy="315.9" r="5.5"/>
<circle cx="367.2" cy="385.4" r="5.5"/>
<circle cx="391.6" cy="149.3" r="5.5"/>
<circle cx="391.6" cy="344.0" r="5.5"/>
<circle cx="402.8" cy="318.6" r="5.5"/>
<circle cx="413.4" cy="260.4" r="5.5"/>
<circle cx="413.4" cy="267.3" r="5.5"/>
<circle cx="423.4" cy="230.0" r="5.5"/>
<circle cx="423.4" cy="343.3" r="5.5"/>
<circle cx="433.1" cy="364.5" r="5.5"/>
<circle cx="442.2" cy="228.4" r="5.5"/>
<circle cx="451.0" cy="269.6" r="5.5"/>
<circle cx="459.5" cy="229.5" r="5.5"/>
<circle cx="459.5" cy="312.0" r="5.5"/>
<circle cx="475.4" cy="146.1" r="5.5"/>
<circle cx="482.9" cy="224.8" r="5.5"/>
<circle cx="482.9" cy="349.0" r="5.5"/>
<circle cx="482.9" cy="352.6" r="5.5"/>
<circle cx="490.2" cy="325.5" r="5.5"/>
<circle cx="497.2" cy="201.4" r="5.5"/>
<circle cx="503.9" cy="193.7" r="5.5"/>
<circle cx="503.9" cy="232.3" r="5.5"/>
<circle cx="540.5" cy="151.6" r="5.5"/>
<circle cx="540.5" cy="216.8" r="5.5"/>
<circle cx="556.6" cy="189.2" r="5.5"/>
<circle cx="556.6" cy="312.5" r="5.5"/>
<circle cx="561.7" cy="208.7" r="5.5"/>
<circle cx="561.7" cy="244.6" r="5.5"/>
<circle cx="567.2" cy="228.6" r="5.5"/>
<circle cx="571.6" cy="234.9" r="5.5"/>
<circle cx="576.3" cy="218.0" r="5.5"/>
<circle cx="581.0" cy="121.5" r="5.5"/>
<circle cx="581.0" cy="209.6" r="5.5"/>
<circle cx="585.5" cy="216.3" r="5.5"/>
<circle cx="598.6" cy="152.7" r="5.5"/>
<circle cx="614.8" cy="141.6" r="5.5"/>
<circle cx="622.4" cy="378.1" r="5.5"/>
<circle cx="626.2" cy="267.7" r="5.5"/>
<circle cx="633.4" cy="118.2" r="5.5"/>
<circle cx="633.4" cy="161.6" r="5.5"/>
<circle cx="636.9" cy="224.4" r="5.5"/>
<circle cx="643.8" cy="179.3" r="5.5"/>
<circle cx="663.2" cy="162.1" r="5.5"/>
<circle cx="675.2" cy="132.4" r="5.5"/>
</g>
<g stroke="#00f" stroke-width="1.55" fill="none" stroke-linejoin="miter">
<path d="M529.1 111.6 L536.3 124.0 L521.9 124.0 Z"/>
<path d="M622.4 22.2 L629.6 34.6 L615.2 34.6 Z"/>
<path d="M614.7 68.3 L621.9 80.7 L607.5 80.7 Z"/>
<path d="M724.1 23.5 L731.3 35.9 L716.9 35.9 Z"/>
<path d="M694.6 59.1 L701.8 71.5 L687.4 71.5 Z"/>
<path d="M681.0 74.2 L688.2 86.6 L673.8 86.6 Z"/>
<path d="M767.4 57.6 L774.6 70.0 L760.2 70.0 Z"/>
<path d="M731.0 105.5 L738.2 117.9 L723.8 117.9 Z"/>
<path d="M714.8 116.7 L722.0 129.1 L707.6 129.1 Z"/>
<path d="M785.5 96.6 L792.7 109.0 L778.3 109.0 Z"/>
<path d="M669.4 118.7 L676.6 131.1 L662.2 131.1 Z"/>
</g>
<g stroke="#000" stroke-width="1.50" fill="none">
<line x1="286.4" y1="226.4" x2="293.2" y2="226.4"/>
<line x1="289.8" y1="226.4" x2="289.8" y2="233.5"/>
<line x1="283.8" y1="262.4" x2="289.8" y2="262.4"/>
<line x1="289.8" y1="259.0" x2="289.8" y2="265.8"/>
<line x1="413.4" y1="254.0" x2="413.4" y2="266.0"/>
<line x1="571.6" y1="222.0" x2="571.6" y2="233.0"/>
<line x1="324.3" y1="279.0" x2="324.3" y2="302.5"/>
<line x1="367.2" y1="277.0" x2="367.2" y2="283.6"/>
<line x1="459.5" y1="305.0" x2="459.5" y2="312.0"/>
<line x1="555.7" y1="209.6" x2="567.7" y2="209.6"/>
</g>
<path d="M131.02 516.75 L122.66 516.75 L121.82 524.40 L122.66 523.55 L125.17 522.70 L127.68 522.70 L130.18 523.55 L131.86 525.25 L132.69 527.80 L132.69 529.50 L131.86 532.05 L130.18 533.75 L127.68 534.60 L125.17 534.60 L122.66 533.75 L121.82 532.90 L120.99 531.20M258.40 520.15 L260.07 519.30 L262.58 516.75 L262.58 534.60M277.62 516.75 L275.12 517.60 L273.44 520.15 L272.61 524.40 L272.61 526.95 L273.44 531.20 L275.12 533.75 L277.62 534.60 L279.30 534.60 L281.80 533.75 L283.48 531.20 L284.31 526.95 L284.31 524.40 L283.48 520.15 L281.80 517.60 L279.30 516.75 L277.62 516.75M399.98 521.00 L399.98 520.15 L400.82 518.45 L401.66 517.60 L403.33 516.75 L406.67 516.75 L408.34 517.60 L409.18 518.45 L410.02 520.15 L410.02 521.85 L409.18 523.55 L407.51 526.10 L399.15 534.60 L410.85 534.60M420.88 516.75 L418.38 517.60 L416.70 520.15 L415.87 524.40 L415.87 526.95 L416.70 531.20 L418.38 533.75 L420.88 534.60 L422.56 534.60 L425.06 533.75 L426.74 531.20 L427.57 526.95 L427.57 524.40 L426.74 520.15 L425.06 517.60 L422.56 516.75 L420.88 516.75M598.56 516.75 L590.20 516.75 L589.36 524.40 L590.20 523.55 L592.71 522.70 L595.22 522.70 L597.72 523.55 L599.40 525.25 L600.23 527.80 L600.23 529.50 L599.40 532.05 L597.72 533.75 L595.22 534.60 L592.71 534.60 L590.20 533.75 L589.36 532.90 L588.53 531.20M610.26 516.75 L607.76 517.60 L606.08 520.15 L605.25 524.40 L605.25 526.95 L606.08 531.20 L607.76 533.75 L610.26 534.60 L611.94 534.60 L614.44 533.75 L616.12 531.20 L616.95 526.95 L616.95 524.40 L616.12 520.15 L614.44 517.60 L611.94 516.75 L610.26 516.75M725.94 520.15 L727.61 519.30 L730.12 516.75 L730.12 534.60M745.16 516.75 L742.66 517.60 L740.98 520.15 L740.15 524.40 L740.15 526.95 L740.98 531.20 L742.66 533.75 L745.16 534.60 L746.84 534.60 L749.34 533.75 L751.02 531.20 L751.85 526.95 L751.85 524.40 L751.02 520.15 L749.34 517.60 L746.84 516.75 L745.16 516.75M761.88 516.75 L759.38 517.60 L757.70 520.15 L756.87 524.40 L756.87 526.95 L757.70 531.20 L759.38 533.75 L761.88 534.60 L763.56 534.60 L766.06 533.75 L767.74 531.20 L768.57 526.95 L768.57 524.40 L767.74 520.15 L766.06 517.60 L763.56 516.75 L761.88 516.75M48.30 524.38 L47.45 524.38 L45.75 523.54 L44.90 522.71 L44.05 521.04 L44.05 517.69 L44.90 516.02 L45.75 515.18 L47.45 514.35 L49.15 514.35 L50.85 515.18 L53.40 516.86 L61.90 525.22 L61.90 513.51M44.05 503.48 L44.90 505.99 L47.45 507.66 L51.70 508.50 L54.25 508.50 L58.50 507.66 L61.05 505.99 L61.90 503.48 L61.90 501.81 L61.05 499.30 L58.50 497.63 L54.25 496.79 L51.70 496.79 L47.45 497.63 L44.90 499.30 L44.05 501.81 L44.05 503.48M44.05 486.76 L44.90 489.27 L47.45 490.94 L51.70 491.78 L54.25 491.78 L58.50 490.94 L61.05 489.27 L61.90 486.76 L61.90 485.09 L61.05 482.58 L58.50 480.91 L54.25 480.07 L51.70 480.07 L47.45 480.91 L44.90 482.58 L44.05 485.09 L44.05 486.76M44.05 300.30 L44.05 308.66 L51.70 309.49 L50.85 308.66 L50.00 306.15 L50.00 303.64 L50.85 301.13 L52.55 299.46 L55.10 298.62 L56.80 298.62 L59.35 299.46 L61.05 301.13 L61.90 303.64 L61.90 306.15 L61.05 308.66 L60.20 309.49 L58.50 310.33M44.05 288.59 L44.90 291.10 L47.45 292.77 L51.70 293.61 L54.25 293.61 L58.50 292.77 L61.05 291.10 L61.90 288.59 L61.90 286.92 L61.05 284.41 L58.50 282.74 L54.25 281.90 L51.70 281.90 L47.45 282.74 L44.90 284.41 L44.05 286.92 L44.05 288.59M44.05 271.87 L44.90 274.38 L47.45 276.05 L51.70 276.89 L54.25 276.89 L58.50 276.05 L61.05 274.38 L61.90 271.87 L61.90 270.20 L61.05 267.69 L58.50 266.02 L54.25 265.18 L51.70 265.18 L47.45 266.02 L44.90 267.69 L44.05 270.20 L44.05 271.87M47.45 153.62 L46.60 151.95 L44.05 149.44 L61.90 149.44M44.05 134.40 L44.90 136.90 L47.45 138.58 L51.70 139.41 L54.25 139.41 L58.50 138.58 L61.05 136.90 L61.90 134.40 L61.90 132.72 L61.05 130.22 L58.50 128.54 L54.25 127.71 L51.70 127.71 L47.45 128.54 L44.90 130.22 L44.05 132.72 L44.05 134.40M44.05 117.68 L44.90 120.18 L47.45 121.86 L51.70 122.69 L54.25 122.69 L58.50 121.86 L61.05 120.18 L61.90 117.68 L61.90 116.00 L61.05 113.50 L58.50 111.82 L54.25 110.99 L51.70 110.99 L47.45 111.82 L44.90 113.50 L44.05 116.00 L44.05 117.68M44.05 100.96 L44.90 103.46 L47.45 105.14 L51.70 105.97 L54.25 105.97 L58.50 105.14 L61.05 103.46 L61.90 100.96 L61.90 99.28 L61.05 96.78 L58.50 95.10 L54.25 94.27 L51.70 94.27 L47.45 95.10 L44.90 96.78 L44.05 99.28 L44.05 100.96M382.20 570.46 L382.20 588.10M382.20 570.46 L393.75 588.10M393.75 570.46 L393.75 588.10M406.12 567.10 L404.47 568.78 L402.82 571.30 L401.17 574.66 L400.35 578.86 L400.35 582.22 L401.17 586.42 L402.82 589.78 L404.47 592.30 L406.12 593.98M411.90 576.34 L411.90 588.10M411.90 581.38 L412.72 578.86 L414.38 577.18 L416.02 576.34 L418.50 576.34M435.82 572.98 L422.62 580.54 L435.82 588.10M444.07 573.82 L445.72 572.98 L448.20 570.46 L448.20 588.10M472.12 570.46 L472.12 588.10M472.12 570.46 L478.72 588.10M485.32 570.46 L478.72 588.10M485.32 570.46 L485.32 588.10M491.92 576.34 L491.92 593.98M491.92 578.86 L493.57 577.18 L495.22 576.34 L497.70 576.34 L499.35 577.18 L501.00 578.86 L501.82 581.38 L501.82 583.06 L501.00 585.58 L499.35 587.26 L497.70 588.10 L495.22 588.10 L493.57 587.26 L491.92 585.58M516.67 578.86 L515.02 577.18 L513.38 576.34 L510.90 576.34 L509.25 577.18 L507.60 578.86 L506.77 581.38 L506.77 583.06 L507.60 585.58 L509.25 587.26 L510.90 588.10 L513.38 588.10 L515.02 587.26 L516.67 585.58M521.62 567.10 L523.27 568.78 L524.92 571.30 L526.58 574.66 L527.40 578.86 L527.40 582.22 L526.58 586.42 L524.92 589.78 L523.27 592.30 L521.62 593.98M9.80 310.25 L9.80 318.75 L10.65 321.30 L12.35 323.00 L14.90 323.85 L16.60 323.85 L19.15 323.00 L20.85 321.30 L21.70 319.60 L21.70 317.90 L20.85 316.20 L19.15 314.50 L16.60 313.65 L14.90 313.65 L12.35 314.50 L10.65 316.20 L9.80 318.75M19.92 297.93 L18.61 299.25 L17.95 301.22 L17.95 303.84 L18.61 305.81 L19.92 307.13 L21.24 307.13 L22.55 306.47 L23.21 305.81 L23.87 304.50 L25.18 300.56 L25.84 299.25 L26.49 298.59 L27.81 297.93 L29.78 297.93 L31.09 299.25 L31.75 301.22 L31.75 303.84 L31.09 305.81 L29.78 307.13M17.95 294.47 L31.75 294.47M19.92 281.13 L18.61 282.45 L17.95 284.42 L17.95 287.04 L18.61 289.02 L19.92 290.33 L21.24 290.33 L22.55 289.67 L23.21 289.02 L23.87 287.70 L25.18 283.76 L25.84 282.45 L26.49 281.79 L27.81 281.13 L29.78 281.13 L31.09 282.45 L31.75 284.42 L31.75 287.04 L31.09 289.02 L29.78 290.33M0.45 256.59 L2.14 258.29 L4.68 259.98 L8.06 261.67 L12.29 262.52 L15.68 262.52 L19.91 261.67 L23.29 259.98 L25.83 258.29 L27.52 256.59M3.83 252.17 L21.60 252.17M9.76 243.71 L18.22 252.17M14.83 248.79 L21.60 242.87M9.76 237.79 L21.60 237.79M13.14 237.79 L10.60 235.25 L9.76 233.56 L9.76 231.02 L10.60 229.33 L13.14 228.48 L21.60 228.48M13.14 228.48 L10.60 225.95 L9.76 224.25 L9.76 221.72 L10.60 220.02 L13.14 219.18 L21.60 219.18M0.45 198.87 L27.52 214.10M12.29 185.34 L10.60 186.18 L9.76 188.72 L9.76 191.26 L10.60 193.80 L12.29 194.64 L13.99 193.80 L14.83 192.11 L15.68 187.88 L16.52 186.18 L18.22 185.34 L19.06 185.34 L20.75 186.18 L21.60 188.72 L21.60 191.26 L20.75 193.80 L19.06 194.64M0.45 180.26 L2.14 178.57 L4.68 176.88 L8.06 175.19 L12.29 174.34 L15.68 174.34 L19.91 175.19 L23.29 176.88 L25.83 178.57 L27.52 180.26" stroke="#000" stroke-width="1.4" fill="none" stroke-linejoin="round" stroke-linecap="round"/>
</svg></body></html>
